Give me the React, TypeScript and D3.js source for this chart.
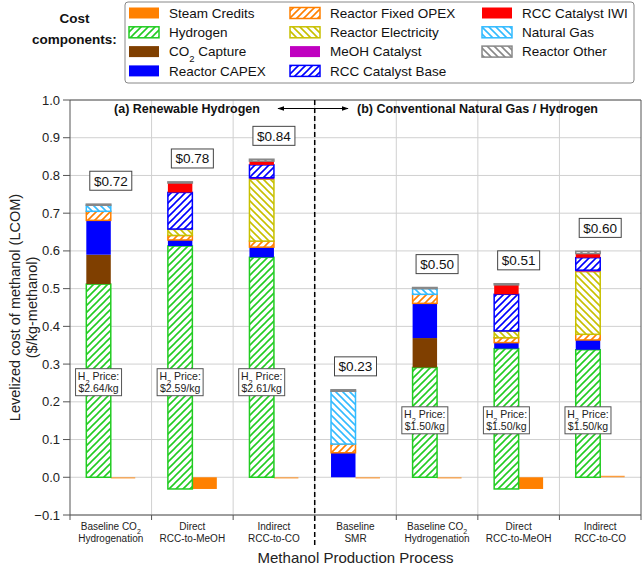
import * as d3 from "d3";

// process categories (x axis), two lines each
const categories = [
  ["Baseline CO₂", "Hydrogenation"],
  ["Direct", "RCC-to-MeOH"],
  ["Indirect", "RCC-to-CO"],
  ["Baseline", "SMR"],
  ["Baseline CO₂", "Hydrogenation"],
  ["Direct", "RCC-to-MeOH"],
  ["Indirect", "RCC-to-CO"],
];

// where each cost stack starts ($/kg-methanol)
const stackBase = [0, -0.031, 0, 0, 0, -0.031, 0];

// cost components, bottom to top of each stack
const hydrogen = [0.512, 0.644, 0.583, 0, 0.291, 0.372, 0.338];
const co2Capture = [0.078, 0, 0, 0, 0.078, 0, 0];
const reactorCapex = [0.091, 0.016, 0.027, 0.065, 0.092, 0.016, 0.026];
const reactorFixedOpex = [0.024, 0.012, 0.016, 0.023, 0.024, 0.013, 0.015];
const reactorElectricity = [0, 0.016, 0.164, 0, 0, 0.017, 0.166];
const meohCatalyst = [0, 0.001, 0.004, 0, 0, 0.001, 0.004];
const rccCatalystBase = [0, 0.097, 0.034, 0, 0, 0.097, 0.033];
const rccCatalystIwi = [0, 0.025, 0.01, 0, 0, 0.025, 0.011];
const naturalGas = [0.016, 0, 0, 0.14, 0.015, 0, 0];
const reactorOther = [0.003, 0.003, 0.005, 0.004, 0.003, 0.003, 0.006];

// steam credits, drawn beside each stack
const steamCredits = [-0.002, -0.031, -0.002, -0.002, -0.002, -0.031, 0.004];

// hydrogen price per process ($/kg), none for SMR
const h2Prices = [2.64, 2.59, 2.61, null, 1.5, 1.5, 1.5];

const yTicks = [-0.1, 0, 0.1, 0.2, 0.3, 0.4, 0.5, 0.6, 0.7, 0.8, 0.9, 1.0];

type Hatch = "none" | "fwd" | "back";
interface Series { name: string; values: number[]; color: string; hatch: Hatch; }

const series: Series[] = [
  { name: "Hydrogen", values: hydrogen, color: "#22cc22", hatch: "fwd" },
  { name: "CO₂ Capture", values: co2Capture, color: "#7f3f00", hatch: "none" },
  { name: "Reactor CAPEX", values: reactorCapex, color: "#0000ff", hatch: "none" },
  { name: "Reactor Fixed OPEX", values: reactorFixedOpex, color: "#ff8000", hatch: "fwd" },
  { name: "Reactor Electricity", values: reactorElectricity, color: "#c8c000", hatch: "back" },
  { name: "MeOH Catalyst", values: meohCatalyst, color: "#c000c0", hatch: "none" },
  { name: "RCC Catalyst Base", values: rccCatalystBase, color: "#0000ff", hatch: "fwd" },
  { name: "RCC Catalyst IWI", values: rccCatalystIwi, color: "#ff0000", hatch: "none" },
  { name: "Natural Gas", values: naturalGas, color: "#33bbff", hatch: "back" },
  { name: "Reactor Other", values: reactorOther, color: "#888888", hatch: "back" },
];
const steam: Series = { name: "Steam Credits", values: steamCredits, color: "#ff8000", hatch: "none" };

const legendOrder = [
  "Steam Credits", "Hydrogen", "CO₂ Capture", "Reactor CAPEX",
  "Reactor Fixed OPEX", "Reactor Electricity", "MeOH Catalyst", "RCC Catalyst Base",
  "RCC Catalyst IWI", "Natural Gas", "Reactor Other",
];

const FONT = "'Liberation Sans', Arial, Helvetica, sans-serif";

// renders "₂" as a subscript 2
function Sub({ text, size }: { text: string; size: number }) {
  const parts = text.split("₂");
  return (
    <>
      {parts.map((p, k) => (
        <tspan key={k}>
          {p}
          {k < parts.length - 1 && (
            <tspan fontSize={size * 0.7} baselineShift="sub">2</tspan>
          )}
        </tspan>
      ))}
    </>
  );
}

const fillOf = (s: Series) => (s.hatch === "none" ? s.color : `url(#hatch-${s.name.replace(/\W/g, "")})`);

export default function App() {
  const width = 643, height = 570;
  const left = 70, right = 641, top = 100, bottom = 515;

  const x = d3.scaleBand<number>().domain(d3.range(categories.length)).range([left, right]);
  const bw = x.bandwidth();
  const y = d3.scaleLinear().domain([-0.1, 1.0]).range([bottom, top]);

  // stacked segments
  const segments: { i: number; s: Series; y0: number; y1: number }[] = [];
  const totals: number[] = [];
  categories.forEach((_, i) => {
    let acc = stackBase[i];
    series.forEach(s => {
      const v = s.values[i];
      if (v !== 0) segments.push({ i, s, y0: acc, y1: acc + v });
      acc += v;
    });
    totals.push(acc);
  });

  const barX = (i: number) => (x(i) as number) + bw * 0.2;
  const barW = bw * 0.3;
  const dividerX = x(3) as number;

  const hatched = series.filter(s => s.hatch !== "none");

  const legendCols = [129, 290, 482];
  const legendRows = [13, 32.3, 51.6, 70.9];

  return (
    <svg width={width} height={height} style={{ position: "absolute", left: 0, top: 0, background: "#fff" }}
      fontFamily={FONT}>
      <defs>
        {hatched.map(s => (
          <pattern key={s.name} id={`hatch-${s.name.replace(/\W/g, "")}`} patternUnits="userSpaceOnUse"
            width={7} height={7}>
            <rect width={7} height={7} fill="#fff" />
            <path
              d={s.hatch === "fwd" ? "M-1,1 l2,-2 M0,7 l7,-7 M6,8 l2,-2" : "M-1,6 l2,2 M0,0 l7,7 M6,-1 l2,2"}
              stroke={s.color} strokeWidth={1.6} />
          </pattern>
        ))}
        <marker id="arrow" viewBox="0 0 10 10" refX={9} refY={5} markerWidth={7} markerHeight={7}
          orient="auto-start-reverse">
          <path d="M0,1.5 L10,5 L0,8.5 z" fill="#000" />
        </marker>
      </defs>

      {/* grid */}
      {yTicks.map(t => (
        <line key={t} x1={left} x2={right} y1={y(t)} y2={y(t)} stroke="#d0d0d0" strokeWidth={1} />
      ))}
      {d3.range(1, categories.length).map(k => (
        <line key={k} x1={x(k)} x2={x(k)} y1={top} y2={bottom} stroke="#d0d0d0" strokeWidth={1} />
      ))}

      {/* steam credit bars */}
      {categories.map((_, i) => {
        const v = steam.values[i];
        return (
          <rect key={i} x={barX(i) + barW} width={barW} y={y(Math.max(0, v))}
            height={Math.max(1.2, Math.abs(y(v) - y(0)))} fill={steam.color}
            opacity={Math.abs(v) < 0.01 ? 0.75 : 1} />
        );
      })}

      {/* cost stacks */}
      {segments.map((d, k) => (
        <rect key={k} x={barX(d.i)} width={barW} y={y(Math.max(d.y0, d.y1))}
          height={Math.abs(y(d.y0) - y(d.y1))} fill={fillOf(d.s)}
          stroke={d.s.hatch === "none" ? "none" : d.s.color} strokeWidth={1.5} />
      ))}

      {/* frame and axes */}
      <line x1={left} x2={right} y1={top} y2={top} stroke="#555" />
      <line x1={right} x2={right} y1={top} y2={bottom} stroke="#555" />
      <line x1={left} x2={left} y1={top} y2={bottom} stroke="#555" />
      <line x1={left} x2={right} y1={bottom} y2={bottom} stroke="#555" />
      {yTicks.map(t => (
        <g key={t}>
          <line x1={left - 7} x2={left} y1={y(t)} y2={y(t)} stroke="#555" />
          <text x={left - 10} y={y(t)} dy="0.35em" textAnchor="end" fontSize={13} fill="#222">
            {d3.format(".1f")(t)}
          </text>
        </g>
      ))}
      {d3.range(0, categories.length + 1).map(k => (
        <line key={k} x1={left + k * bw} x2={left + k * bw} y1={bottom} y2={bottom + 5} stroke="#555" />
      ))}
      {categories.map((lines, i) => {
        const cx = (x(i) as number) + bw / 2;
        return (
          <g key={i}>
            <text x={cx} y={530} textAnchor="middle" fontSize={10} fill="#222">
              <Sub text={lines[0]} size={10} />
            </text>
            <text x={cx} y={541.5} textAnchor="middle" fontSize={10} fill="#222">{lines[1]}</text>
          </g>
        );
      })}
      <text x={(left + right) / 2} y={563} textAnchor="middle" fontSize={15} fill="#222">
        Methanol Production Process
      </text>
      <text transform={`translate(20,${(top + bottom) / 2}) rotate(-90)`} textAnchor="middle" fontSize={14.5} fill="#222">
        Levelized cost of methanol (LCOM)
      </text>
      <text transform={`translate(37,${(top + bottom) / 2}) rotate(-90)`} textAnchor="middle" fontSize={14.5} fill="#222">
        ($/kg-methanol)
      </text>

      {/* section divider */}
      <line x1={dividerX} x2={dividerX} y1={top} y2={548} stroke="#000" strokeWidth={1.5} strokeDasharray="5,3" />
      <text x={187} y={112.5} textAnchor="middle" fontSize={12.5} fontWeight="bold" fill="#111">
        (a) Renewable Hydrogen
      </text>
      <line x1={278} x2={348} y1={108.5} y2={108.5} stroke="#000" strokeWidth={1}
        markerStart="url(#arrow)" markerEnd="url(#arrow)" />
      <text x={357} y={112.5} textAnchor="start" fontSize={12.5} fontWeight="bold" fill="#111">
        (b) Conventional Natural Gas / Hydrogen
      </text>

      {/* totals */}
      {totals.map((t, i) => {
        const cx = (x(i) as number) + bw / 2;
        const cy = y(t + 0.062);
        return (
          <g key={i}>
            <rect x={cx - 21} y={cy - 9.5} width={42} height={19} fill="#fff" stroke="#444" strokeWidth={1} />
            <text x={cx} y={cy} dy="0.36em" textAnchor="middle" fontSize={13.5} fill="#111">
              {`$${t.toFixed(2)}`}
            </text>
          </g>
        );
      })}

      {/* hydrogen price boxes */}
      {h2Prices.map((p, i) => {
        if (p === null) return null;
        const cx = barX(i) + barW / 2;
        const cy = y(i < 3 ? 0.252 : 0.151);
        return (
          <g key={i}>
            <rect x={cx - 23} y={cy - 13.5} width={46} height={27} fill="#fff" stroke="#555" strokeWidth={1} />
            <text x={cx} y={cy - 2.5} textAnchor="middle" fontSize={10.5} fill="#222">
              <Sub text="H₂ Price:" size={10.5} />
            </text>
            <text x={cx} y={cy + 10} textAnchor="middle" fontSize={10.5} fill="#222">
              {`$${p.toFixed(2)}/kg`}
            </text>
          </g>
        );
      })}

      {/* legend */}
      <text x={74.5} y={23} textAnchor="middle" fontSize={13.5} fontWeight="bold" fill="#111">Cost</text>
      <text x={74.5} y={44} textAnchor="middle" fontSize={13.5} fontWeight="bold" fill="#111">components:</text>
      <rect x={125} y={2} width={509} height={81} rx={3} fill="#fff" stroke="#888" strokeWidth={1} />
      {legendOrder.map((name, k) => {
        const s = name === steam.name ? steam : series.find(d => d.name === name)!;
        const lx = legendCols[Math.floor(k / 4)];
        const ly = legendRows[k % 4];
        return (
          <g key={name}>
            <rect x={lx} y={ly - 5.5} width={30} height={11} fill={fillOf(s)}
              stroke={s.hatch === "none" ? "none" : s.color} strokeWidth={1.5} />
            <text x={lx + 40} y={ly} dy="0.36em" fontSize={13.5} fill="#111">
              <Sub text={name} size={13.5} />
            </text>
          </g>
        );
      })}
    </svg>
  );
}
